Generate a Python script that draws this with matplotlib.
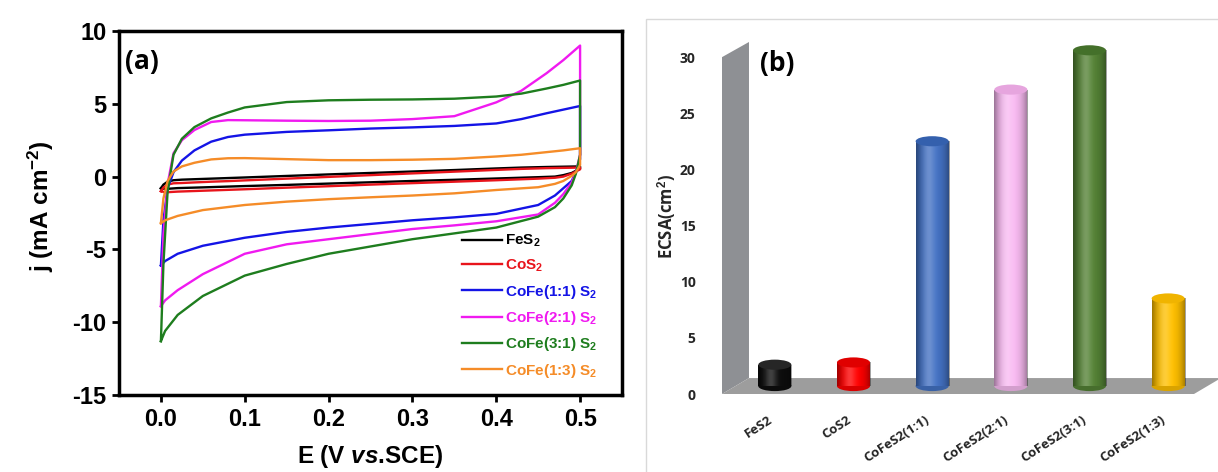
import matplotlib
matplotlib.use("Agg")
import matplotlib.pyplot as plt
from matplotlib.patches import Ellipse, Polygon, Rectangle
import matplotlib.transforms as mtransforms
import numpy as np

# ---- panel (a): CV curves ----
E_up = [0, 0.003, 0.008, 0.015, 0.025, 0.04, 0.06, 0.08, 0.1, 0.15, 0.2,
        0.25, 0.3, 0.35, 0.4, 0.43, 0.46, 0.48, 0.5]
E_down = [0.5, 0.5, 0.495, 0.49, 0.48, 0.47, 0.45, 0.4, 0.35, 0.3, 0.25,
          0.2, 0.15, 0.1, 0.05, 0.02, 0.005, 0]

fes2_up = [-0.8, -0.55, -0.35, -0.25, -0.21, -0.18, -0.14, -0.10, -0.06, 0.045,
           0.15, 0.25, 0.35, 0.45, 0.56, 0.62, 0.66, 0.68, 0.7]
fes2_down = [0.7, 0.55, 0.4, 0.25, 0.1, 0.0, -0.04, -0.13, -0.22, -0.30, -0.39,
             -0.48, -0.57, -0.65, -0.74, -0.79, -0.85, -0.8]
cos2_up = [-1.0, -0.75, -0.55, -0.46, -0.44, -0.4, -0.35, -0.31, -0.26, -0.14,
           -0.02, 0.1, 0.22, 0.34, 0.46, 0.53, 0.58, 0.6, 0.62]
cos2_down = [0.62, 0.5, 0.35, 0.2, 0.0, -0.08, -0.14, -0.25, -0.35, -0.45, -0.55,
             -0.66, -0.76, -0.87, -0.97, -1.03, -1.08, -1.0]
cofe11_up = [-6.1, -3.0, -0.8, 0.3, 1.1, 1.8, 2.4, 2.72, 2.88, 3.07, 3.18,
             3.3, 3.38, 3.48, 3.65, 3.95, 4.35, 4.6, 4.85]
cofe11_down = [4.85, 1.2, 0.3, -0.3, -0.8, -1.3, -1.95, -2.56, -2.8, -3.0, -3.25,
               -3.5, -3.8, -4.2, -4.75, -5.3, -5.8, -6.1]
cofe21_up = [-8.9, -4.0, -0.5, 1.6, 2.5, 3.2, 3.75, 3.88, 3.87, 3.84, 3.82,
             3.84, 3.95, 4.15, 5.1, 5.9, 7.1, 8.0, 9.0]
cofe21_down = [9.0, 1.5, 0.3, -0.4, -1.2, -1.8, -2.6, -3.07, -3.35, -3.6, -3.95,
               -4.3, -4.65, -5.3, -6.7, -7.8, -8.5, -8.9]
cofe31_up = [-11.3, -6.0, -1.0, 1.5, 2.6, 3.4, 4.0, 4.4, 4.75, 5.12, 5.24,
             5.28, 5.3, 5.35, 5.5, 5.7, 6.05, 6.3, 6.6]
cofe31_down = [6.6, 1.5, 0.2, -0.6, -1.5, -2.1, -2.75, -3.5, -3.9, -4.3, -4.8,
               -5.3, -6.0, -6.8, -8.2, -9.5, -10.6, -11.3]
cofe13_up = [-3.2, -1.5, -0.3, 0.35, 0.7, 0.95, 1.18, 1.26, 1.27, 1.2, 1.13,
             1.13, 1.16, 1.22, 1.38, 1.5, 1.68, 1.8, 1.95]
cofe13_down = [1.95, 0.8, 0.3, 0.05, -0.3, -0.5, -0.73, -0.92, -1.15, -1.3, -1.42,
               -1.55, -1.72, -1.95, -2.3, -2.7, -3.0, -3.2]

cv_labels = ["FeS$_2$", "CoS$_2$", "CoFe(1:1) S$_2$", "CoFe(2:1) S$_2$",
             "CoFe(3:1) S$_2$", "CoFe(1:3) S$_2$"]
cv_up = [fes2_up, cos2_up, cofe11_up, cofe21_up, cofe31_up, cofe13_up]
cv_down = [fes2_down, cos2_down, cofe11_down, cofe21_down, cofe31_down, cofe13_down]
cv_colors = ["#000000", "#e8141b", "#1414e6", "#f01af0", "#1e7d1e", "#f58c28"]

# ---- panel (b): ECSA ----
samples = ["FeS2", "CoS2", "CoFeS2(1:1)", "CoFeS2(2:1)", "CoFeS2(3:1)", "CoFeS2(1:3)"]
ecsa = [1.9, 2.1, 21.8, 26.4, 29.9, 7.8]
bar_colors = ["#0d0d0d", "#ff0000", "#4472c4", "#f9bbf2", "#548235", "#ffc000"]
top_colors = ["#262626", "#e00000", "#3460ad", "#e6a5de", "#44702a", "#f0b400"]

plt.rcParams["font.family"] = "Liberation Sans"
plt.rcParams["font.weight"] = "bold"
plt.rcParams["axes.labelweight"] = "bold"
plt.rcParams["mathtext.fontset"] = "custom"
plt.rcParams["mathtext.rm"] = "Liberation Sans:bold"
plt.rcParams["mathtext.bf"] = "Liberation Sans:bold"
plt.rcParams["mathtext.it"] = "Liberation Sans:italic:bold"
plt.rcParams["mathtext.default"] = "bf"

W, H = 1218, 472
fig = plt.figure(figsize=(W / 100, H / 100), dpi=100)

ax = fig.add_axes([119 / W, (H - 395) / H, 503 / W, 364 / H])
for up, down, c, lab in zip(cv_up, cv_down, cv_colors, cv_labels):
    E = list(E_up) + list(E_down)
    j = list(up) + list(down)
    ax.plot(E, j, color=c, lw=1.7, label=lab)

ax.set_xlim(-0.05, 0.55)
ax.set_ylim(-15, 10)
ax.set_xticks([0.0, 0.1, 0.2, 0.3, 0.4, 0.5])
ax.set_yticks([-15, -10, -5, 0, 5, 10])
ax.set_yticklabels(["-15", "-10", "-5", "0", "5", "10"])
ax.tick_params(direction="out", length=5, width=2, labelsize=17, pad=4)
for s in ax.spines.values():
    s.set_linewidth(2.5)
ax.set_ylabel("j (mA cm$^{-2}$)", fontsize=17.5)
ax.yaxis.set_label_coords(-0.125, 0.52)
ax.set_xlabel(r"E (V $\mathit{vs}$.SCE)", fontsize=17.5)
ax.xaxis.set_label_coords(0.5, -0.205)
ax.xaxis.label.set_va("bottom")
ax.text(0.012, 0.915, "(a)", transform=ax.transAxes, fontsize=19,
        family="Open Sans", weight="bold", va="center", ha="left")
ax.legend(loc="upper left", bbox_to_anchor=(0.682, 0.445), frameon=False,
          fontsize=11, labelcolor="linecolor", handlelength=2.6,
          handletextpad=0.2, labelspacing=0.55, borderpad=0, borderaxespad=0)

# ---- panel (b) ----
fig.patches.append(Rectangle((646 / W, -0.1), 1.0, (H - 19) / H + 0.1,
                             transform=fig.transFigure, fill=False,
                             edgecolor="#d9d9d9", lw=1))

ax2 = fig.add_axes([722 / W, (H - 394) / H, 472 / W, 353.7 / H])
DX, DY = 0.343, 1.42  # depth of the 3D box in data units
x = np.arange(len(samples))
ax2.set_xlim(-0.5, 5.5)
ax2.set_ylim(0, 31.5)

wall = Polygon([(-0.5, 0), (-0.5, 30.0), (-0.5 + DX, 31.35), (-0.5 + DX, DY)],
               closed=True, fc="#8e9094", ec="none", zorder=1, clip_on=False)
floor = Polygon([(-0.5, 0), (5.5, 0), (5.5 + DX, DY), (-0.5 + DX, DY)],
                closed=True, fc="#9d9d9d", ec="none", zorder=1, clip_on=False)
ax2.add_patch(wall)
ax2.add_patch(floor)

bw = 0.42
eh = 0.9
xc = x + DX / 2
base = DY / 2
bars = ax2.bar(xc, ecsa, width=bw, bottom=base, color=bar_colors, zorder=3,
               clip_on=False)
t = np.linspace(-1, 1, 64)
shade = np.zeros((1, 64, 4))
shade[0, :, 3] = 0.38 * np.abs(t) ** 2.5
hl = np.ones((1, 64, 4))
hl[0, :, 3] = 0.22 * np.exp(-((t + 0.25) / 0.35) ** 2)
for xi, v, b, c, tc in zip(xc, ecsa, bars, bar_colors, top_colors):
    ax2.add_patch(Ellipse((xi, base), bw, eh, fc=c, ec="none", zorder=2,
                          clip_on=False))
    ax2.add_patch(Ellipse((xi, base), bw, eh, fc="black", alpha=0.15,
                          ec="none", zorder=2.1, clip_on=False))
    ext = [xi - bw / 2, xi + bw / 2, base, base + v]
    for img in (shade, hl):
        im = ax2.imshow(img, extent=ext, aspect="auto", zorder=3.5,
                        interpolation="bilinear", clip_on=True)
        im.set_clip_path(b)
    ax2.add_patch(Ellipse((xi, base + v), bw, eh, fc=tc, ec="none", zorder=4,
                          clip_on=False))
ax2.set_xlim(-0.5, 5.5)
ax2.set_ylim(0, 31.5)

for s in ax2.spines.values():
    s.set_visible(False)
ax2.set_yticks([0, 5, 10, 15, 20, 25, 30])
ax2.set_xticks(x)
ax2.set_xticklabels(samples, rotation=33, ha="right", va="top",
                    rotation_mode="anchor")
ax2.tick_params(length=0)
ax2.tick_params(axis="y", pad=19, labelsize=10, labelcolor="#262626")
ax2.tick_params(axis="x", pad=14, labelsize=9.5, labelcolor="#262626")
for lab in ax2.get_yticklabels() + ax2.get_xticklabels():
    lab.set_family("Open Sans")
    lab.set_weight("bold")
off = mtransforms.ScaledTranslation(6 / 100, 0, fig.dpi_scale_trans)
for lab in ax2.get_xticklabels():
    lab.set_transform(lab.get_transform() + off)
ax2.set_ylabel("ECSA(cm$^2$)", fontsize=12, family="Open Sans",
               weight="bold", color="#262626")
ax2.yaxis.set_label_coords(-0.118, 0.503)
ax2.yaxis.label.set_va("center")
fig.text(760 / W, (H - 64) / H, "(b)", fontsize=19, family="Open Sans",
         weight="bold", va="center", ha="left")

fig.savefig("out.png", dpi=100)
